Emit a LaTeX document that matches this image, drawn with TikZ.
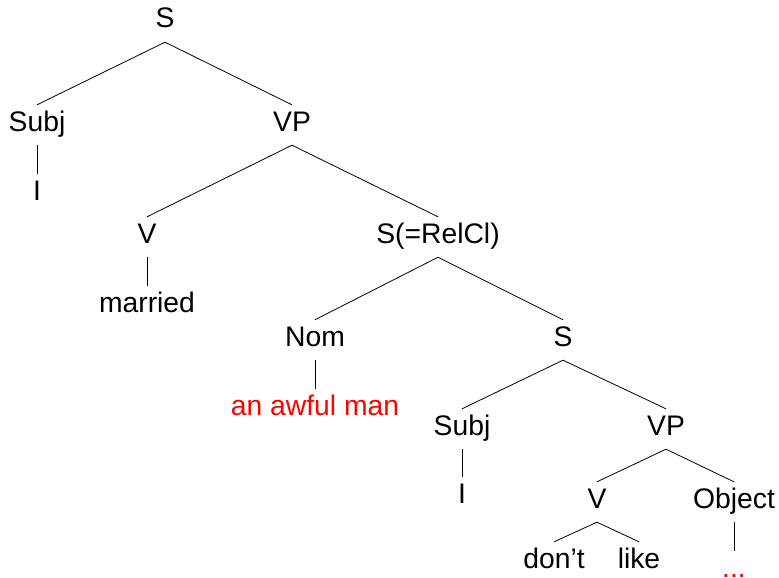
\documentclass[tikz,border=0pt]{standalone}
\usepackage{fontspec}
\setmainfont{Liberation Sans}
\begin{document}
\begin{tikzpicture}[x=1pt,y=-1pt,
  lbl/.style={inner sep=0pt, text height=26pt, text depth=14pt, anchor=base,
    font=\fontsize{28.3}{30}\selectfont},
  hl/.style={lbl, text=red},
  branch/.style={draw=black, line width=0.8pt}]
\useasboundingbox (0,0) rectangle (779,578);
% level 0
\node[lbl] (s0) at (165,28) {S};
% level 1
\node[lbl] (subj1) at (37,131) {Subj};
\node[lbl] (vp1) at (292,131) {VP};
\node[lbl] (i1) at (37,200) {I};
% level 2
\node[lbl] (v1) at (147,243) {V};
\node[lbl] (rel) at (438,243) {S(=RelCl)};
\node[lbl] (married) at (147,312) {married};
% level 3
\node[lbl] (nom) at (315,346) {Nom};
\node[lbl] (s2) at (563,346) {S};
\node[hl] (awful) at (315,415) {an awful man};
% level 4
\node[lbl] (subj2) at (462,435) {Subj};
\node[lbl] (vp2) at (666,435) {VP};
\node[lbl] (i2) at (462,503) {I};
% level 5
\node[lbl] (v2) at (597,508) {V};
\node[lbl] (obj) at (734,508) {Object};
\node[lbl] (dont) at (554,568) {don’t};
\node[lbl] (like) at (639,568) {like};
\node[hl] (dots) at (734,577) {...};
% branches
\draw[branch] (s0.south) -- (subj1.north);
\draw[branch] (s0.south) -- (vp1.north);
\draw[branch] (subj1.south) -- (i1.north);
\draw[branch] (vp1.south) -- (v1.north);
\draw[branch] (vp1.south) -- (rel.north);
\draw[branch] (v1.south) -- (married.north);
\draw[branch] (rel.south) -- (nom.north);
\draw[branch] (rel.south) -- (s2.north);
\draw[branch] (nom.south) -- (awful.north);
\draw[branch] (s2.south) -- (subj2.north);
\draw[branch] (s2.south) -- (vp2.north);
\draw[branch] (subj2.south) -- (i2.north);
\draw[branch] (vp2.south) -- (v2.north);
\draw[branch] (vp2.south) -- (obj.north);
\draw[branch] (v2.south) -- (dont.north);
\draw[branch] (v2.south) -- (like.north);
\draw[branch] (obj.south) -- (dots.north);
\end{tikzpicture}
\end{document}
